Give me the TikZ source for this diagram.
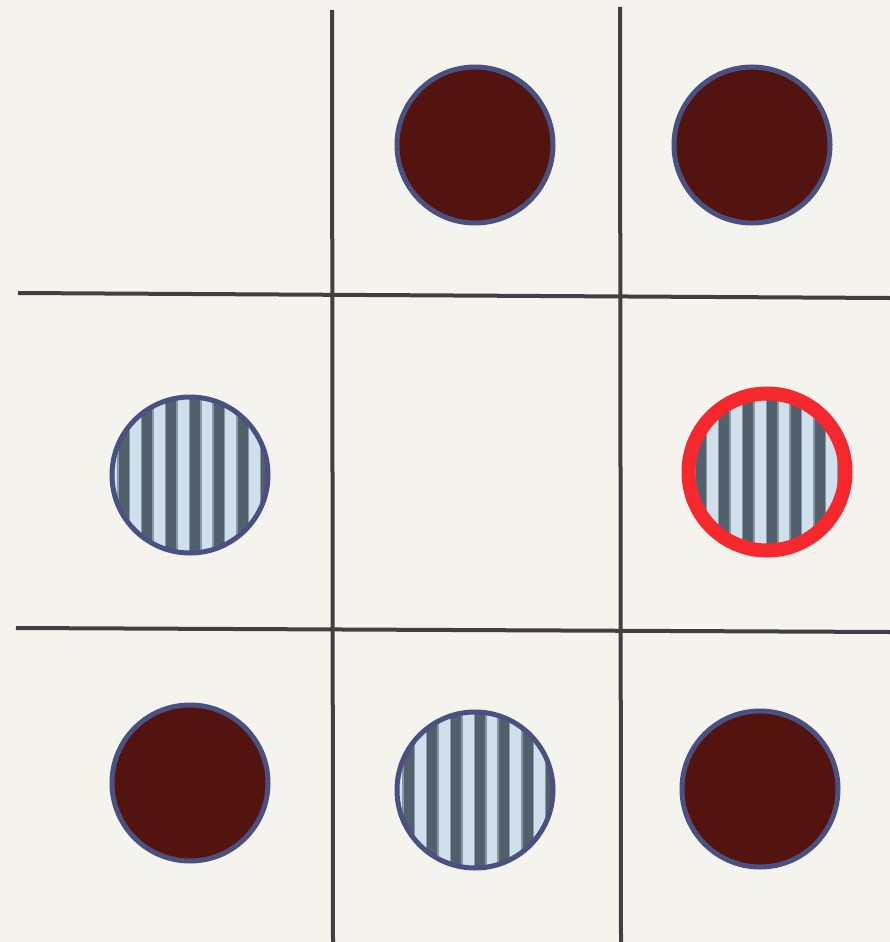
\documentclass[tikz,border=0pt]{standalone}
\usetikzlibrary{calc}
\definecolor{paper}{HTML}{F4F3EE}
\definecolor{gridgray}{HTML}{404040}
\definecolor{ringblue}{HTML}{4A5080}
\definecolor{stonered}{HTML}{53130F}
\definecolor{stripelight}{HTML}{D0DFEC}
\definecolor{stripedark}{HTML}{52606D}
\definecolor{stripemid}{HTML}{8A98A6}
\definecolor{markred}{HTML}{F5282D}
\tikzset{
  gridline/.style={draw=gridgray, line width=4pt},
  stone/.style={circle, draw=ringblue, line width=5pt, minimum size=156pt, inner sep=0pt, fill=stonered},
  stripes/.style={fill=stripelight, path picture={
      \foreach \i in {-4,...,3} {
        \fill[stripemid] ($(path picture bounding box.center)+(\i*23.8-1.5,-100)$) rectangle +(13,200);
        \fill[stripedark] ($(path picture bounding box.center)+(\i*23.8,-100)$) rectangle +(10,200);
      }}},
  stripedstone/.style={stone, stripes},
  markedstone/.style={circle, draw=markred, line width=14pt, minimum size=157pt, inner sep=0pt, stripes}
}
\begin{document}
\begin{tikzpicture}[x=1pt,y=-1pt]
\fill[paper] (0,0) rectangle (890,942);
\useasboundingbox (0,0) rectangle (890,942);
% grid coordinates
\coordinate (v1t) at (332,10);
\coordinate (v1b) at (333,942);
\coordinate (v2t) at (620,7);
\coordinate (v2b) at (621,942);
\coordinate (h1l) at (18,293);
\coordinate (h1r) at (890,298);
\coordinate (h2l) at (16,628);
\coordinate (h2r) at (890,632);
\draw[gridline] (v1t) -- (v1b);
\draw[gridline] (v2t) -- (v2b);
\draw[gridline] (h1l) -- (h1r);
\draw[gridline] (h2l) -- (h2r);
% stones
\node[stone] (tm) at (475,145) {};
\node[stone] (tr) at (752,145) {};
\node[stripedstone] (ml) at (190,475) {};
\node[markedstone] (mr) at (767,472) {};
\node[stone] (bl) at (190,783) {};
\node[stripedstone] (bm) at (475,790) {};
\node[stone] (br) at (760,789) {};
\end{tikzpicture}
\end{document}
